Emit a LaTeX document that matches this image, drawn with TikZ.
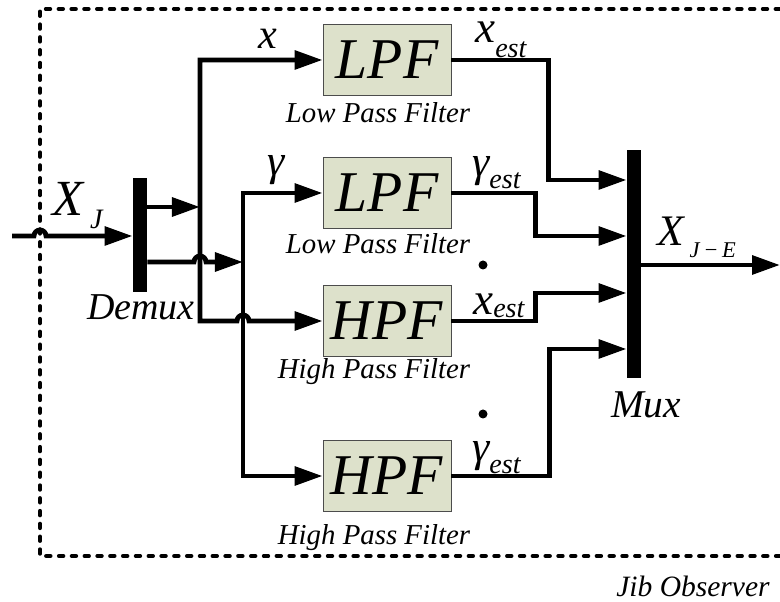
\documentclass[tikz,border=0pt]{standalone}
\usepackage{fontspec}
\setmainfont{Liberation Serif}
\usepackage{xcolor}
\usetikzlibrary{arrows.meta,calc}

\definecolor{filtfill}{RGB}{221,225,203}

\begin{document}
\begin{tikzpicture}[
    x=0.025cm, y=0.025cm,
    filt/.style={draw=black!70, line width=0.6pt, fill=filtfill, minimum width=3.2cm, minimum height=1.78cm, inner sep=0pt, font=\fontsize{41}{41}\selectfont\itshape},
    bar/.style={fill=black, inner sep=0pt, minimum width=3.6mm},
    sig/.style={line width=1.2mm},
    arr/.style={sig, -{Triangle[length=7mm, width=4.6mm]}},
    twoarr/.style={sig, {Triangle[length=7mm, width=4.6mm]}-{Triangle[length=7mm, width=4.6mm]}},
    frame/.style={line width=1mm, line cap=round, dash pattern=on 1.1mm off 2.1mm},
    lbl/.style={inner sep=0pt, anchor=base west, font=\itshape},
    filtcap/.style={inner sep=0pt, anchor=base, font=\fontsize{20.5}{21}\selectfont\itshape},
]
    \useasboundingbox (0,0) rectangle (780,602);

    % observer frame
    \draw[frame] (780,593) -- (40,593) -- (40,46) -- (780,46);

    \coordinate (in) at (12,366);
    \coordinate (out) at (780,337);
    \coordinate (busx) at (200,395);
    \coordinate (busg) at (243,340);

    \node[bar, minimum height=2.85cm] (demux) at (140,367) {};
    \node[bar, minimum height=5.7cm] (mux) at (634,338) {};

    \node[filt] (lpfA) at (387,542) {LPF};
    \node[filt] (lpfB) at (387,409) {LPF};
    \node[filt] (hpfA) at (387,281) {HPF};
    \node[filt] (hpfB) at (387,126) {HPF};

    \coordinate (mxA) at ($(mux.west)+(0,84)$);
    \coordinate (mxB) at ($(mux.west)+(0,28)$);
    \coordinate (mxC) at ($(mux.west)+(0,-29)$);
    \coordinate (mxD) at ($(mux.west)+(0,-85)$);

    % input side
    \draw[arr] (in) -- ($(in)+(22,0)$) arc[start angle=180, end angle=0, radius=6] -- (demux.west |- in);
    \draw[arr] (demux.east |- busx) -- (busx);
    \draw[arr] (demux.east |- busg) -- ($(busx |- busg)+(-6,0)$) arc[start angle=180, end angle=0, radius=6] -- (busg);
    \draw[twoarr] (lpfA.west) -- (busx |- lpfA) -- (busx |- hpfA) -- ($(busg |- hpfA)+(-6,0)$) arc[start angle=180, end angle=0, radius=6] -- (hpfA.west);
    \draw[twoarr] (lpfB.west) -- (busg |- lpfB) -- (busg |- hpfB) -- (hpfB.west);

    % output side
    \draw[arr] (lpfA.east) -- ++(97,0) |- (mxA);
    \draw[arr] (lpfB.east) -- ++(84,0) |- (mxB);
    \draw[arr] (hpfA.east) -- ++(84,0) |- (mxC);
    \draw[arr] (hpfB.east) -- ++(98,0) |- (mxD);
    \draw[arr] (mux.east |- out) -- (out);

    \fill (483,337) circle[radius=4.5];
    \fill (483,188) circle[radius=4.5];

    % labels
    \node[lbl] (lblXJ) at (52,386) {\fontsize{36}{36}\selectfont X\hspace{5pt}\raisebox{-9pt}{\fontsize{20}{20}\selectfont J}};
    \node[lbl, anchor=base, font=\fontsize{30}{30}\selectfont\itshape] (lblx) at (268,553) {x};
    \node[lbl, anchor=base, font=\fontsize{31}{31}\selectfont\itshape] (lblg) at (276,426) {γ};
    \node[lbl, anchor=base, font=\fontsize{27}{27}\selectfont\itshape] (lbldemux) at (141,282) {Demux};
    \node[lbl, anchor=base, font=\fontsize{28}{28}\selectfont\itshape] (lblmux) at (646,184) {Mux};
    \node[lbl] (lblXJE) at (657,356) {\fontsize{31}{31}\selectfont X\hspace{4pt}\raisebox{-8.5pt}{\fontsize{16}{16}\selectfont J\,−\,E}};

    \node[lbl] (lblxA) at (475,559) {\fontsize{32}{32}\selectfont x\raisebox{-10pt}{\fontsize{20}{20}\selectfont est}};
    \node[lbl] (lblgA) at (472,425) {\fontsize{31}{31}\selectfont γ\raisebox{-8pt}{\fontsize{20}{20}\selectfont est}};
    \node[lbl] (lblxB) at (473,287) {\fontsize{32}{32}\selectfont x\raisebox{-2pt}{\fontsize{20}{20}\selectfont est}};
    \node[lbl] (lblgB) at (472,140) {\fontsize{31}{31}\selectfont γ\raisebox{-8pt}{\fontsize{20}{20}\selectfont est}};

    \node[filtcap] (capA) at (378,479) {Low Pass Filter};
    \node[filtcap] (capB) at (378,348) {Low Pass Filter};
    \node[filtcap] (capC) at (374,223) {High Pass Filter};
    \node[filtcap] (capD) at (374,57) {High Pass Filter};
    \node[filtcap, font=\fontsize{21}{21}\selectfont\itshape] (jib) at (693,5) {Jib Observer};
\end{tikzpicture}
\end{document}
